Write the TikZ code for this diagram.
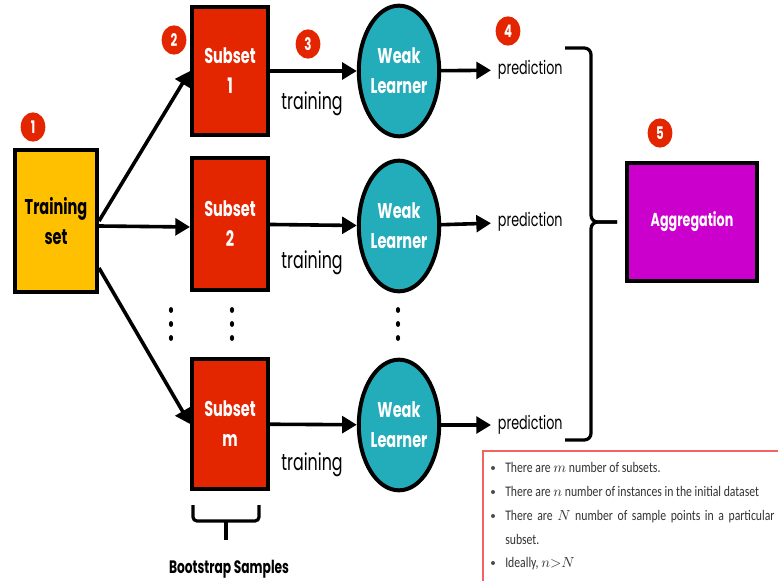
\documentclass[tikz,border=0pt]{standalone}
\usepackage{amsmath}
\usepackage{fontspec}
\usepackage{tikz}
\usetikzlibrary{calc, positioning, arrows.meta, shapes.geometric}

\newfontfamily\popfont[FakeStretch=0.68]{Poppins}
\newfontfamily\calfont[FakeStretch=0.8]{Carlito}

\definecolor{trainyellow}{RGB}{255,192,0}
\definecolor{subsetred}{RGB}{228,38,0}
\definecolor{weakteal}{RGB}{35,172,185}
\definecolor{aggpurple}{RGB}{204,0,204}
\definecolor{notered}{RGB}{240,100,100}

\tikzset{
  stagebox/.style={draw=black, line width=3pt, inner sep=0pt, align=center,
    font=\popfont\bfseries\fontsize{16}{22.5}\selectfont},
  learner/.style={ellipse, draw=black, line width=3pt, fill=weakteal, text=white,
    inner sep=0pt, minimum width=57pt, minimum height=98pt, align=center,
    font=\popfont\bfseries\fontsize{16}{22.5}\selectfont},
  badge/.style={ellipse, fill=subsetred, text=white, inner sep=0pt,
    minimum width=18.5pt, minimum height=22pt,
    font=\popfont\bfseries\fontsize{13}{13}\selectfont},
  flow/.style={line width=2.7pt, -{Triangle[length=11pt,width=12.5pt]}},
  plain/.style={font=\popfont\fontsize{14}{14}\selectfont, inner sep=5pt},
  trainlabel/.style={font=\popfont\fontsize{17.5}{17.5}\selectfont, inner sep=0pt},
  brk/.style={line width=2.4pt, rounded corners=5pt},
  note/.style={font=\calfont\fontsize{11}{11}\selectfont, text=black!80, inner sep=0pt, anchor=base west}
}

\begin{document}
\begin{tikzpicture}[x=0.75pt, y=-0.75pt]
  \useasboundingbox (0,0) rectangle (778,581);
  \clip (0,0) rectangle (778,581);
  \fill[white] (0,0) rectangle (778,581);

  % boxes
  \node[stagebox, fill=trainyellow, minimum width=61.5pt, minimum height=106.5pt] (train) at (56,221) {Training\\set};
  \node[stagebox, fill=subsetred, text=white, minimum width=57pt, minimum height=96pt] (sub1) at (230,71) {Subset\\1};
  \node[stagebox, fill=subsetred, text=white, minimum width=57pt, minimum height=99pt] (sub2) at (230,224) {Subset\\2};
  \node[stagebox, fill=subsetred, text=white, minimum width=57pt, minimum height=97.5pt] (subm) at (230,424) {Subset\\m};

  \node[learner] (wl1) at (399,71) {Weak\\Learner};
  \node[learner] (wl2) at (399,226) {Weak\\Learner};
  \node[learner] (wlm) at (399,425) {Weak\\Learner};

  \node[plain, anchor=west] (pred1) at (491,70) {prediction};
  \node[plain, anchor=west] (pred2) at (491,222) {prediction};
  \node[plain, anchor=west] (predm) at (491,425) {prediction};

  \node[stagebox, fill=aggpurple, text=white, minimum width=97.5pt, minimum height=87.75pt,
    font=\popfont\bfseries\fontsize{14}{14}\selectfont] (agg) at (692,222) {Aggregation};

  % numbered steps
  \node[badge] (b1) at (33,127) {1};
  \node[badge] (b2) at (174,40) {2};
  \node[badge] (b3) at (308,44) {3};
  \node[badge] (b4) at (508,31) {4};
  \node[badge] (b5) at (660,133) {5};

  % arrows
  \draw[flow] (train.east) -- (sub1.west);
  \draw[flow] ($(train.east)+(0,5)$) -- ($(sub2.west)+(0,3)$);
  \draw[flow] ($(train.east)+(0,47)$) -- (subm.west);
  \draw[flow] (sub1) -- (wl1);
  \draw[flow] (sub2) -- (wl2);
  \draw[flow] (subm) -- (wlm);
  \draw[flow] (wl1) -- (pred1);
  \draw[flow] (wl2) -- (pred2);
  \draw[flow] (wlm) -- (predm);

  \node[trainlabel] (tr1) at (312,104) {training};
  \node[trainlabel] (tr2) at (312,263) {training};
  \node[trainlabel] (trm) at (312,465) {training};

  % vertical dots
  \foreach \x in {171,232,398}
    \foreach \y in {310,324,338}
      \fill (\x,\y) ellipse (1.6pt and 2.2pt);

  % big brace
  \coordinate (brtop) at (565,48);
  \coordinate (brbot) at (565,440);
  \coordinate (brtip) at (617,222);
  \draw[brk] (brtop) -- (591,48) -- (591,222) -- (brtip);
  \draw[brk] (brbot) -- (591,440) -- (591,222) -- (brtip);

  % bootstrap bracket
  \draw[brk, rounded corners=3pt] (193,505) -- (193,521) -- (259,521) -- (259,505);
  \draw[line width=2.4pt] (226,521) -- (226,540);
  \node[font=\popfont\bfseries\fontsize{13.5}{13.5}\selectfont] (boot) at (229,569) {Bootstrap Samples};

  % notes
  \draw[notered, line width=1.2pt] (483,451) rectangle (800,600);
  \foreach \y in {472,496,520,567}
    \fill[black!70] (493,\y-4) circle (1.5pt);
  \node[note] (n1) at (505,472) {There are $m$ number of subsets.};
  \node[note] (n2) at (505,496) {There are $n$ number of instances in the initial dataset};
  \node[note] (n3) at (505,520) {\makebox[202pt][s]{There are $N$ number of sample points in a particular}};
  \node[note] (n3b) at (505,544) {subset.};
  \node[note] (n4) at (505,567) {Ideally, $n{>}N$};
\end{tikzpicture}
\end{document}
